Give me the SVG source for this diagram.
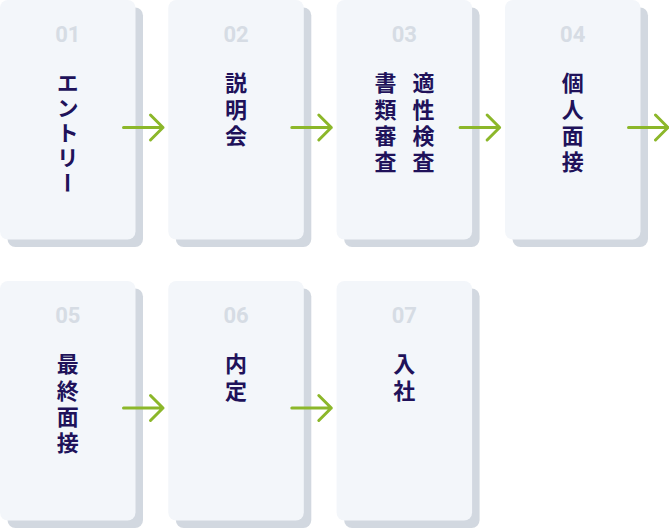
<svg xmlns="http://www.w3.org/2000/svg" width="669" height="528" viewBox="0 0 669 528">
<style>
.shadow{fill:#d2d8e0}
.card{fill:#f3f6fa}
.num{font-family:Roboto,"Liberation Sans",sans-serif;font-weight:700;font-size:22px;fill:#d6dce4;text-anchor:middle}
.lbl{font-family:"Noto Sans CJK JP","Noto Sans",sans-serif;font-weight:700;font-size:22px;fill:#20125a;writing-mode:vertical-rl;letter-spacing:4.2px}
.kana{letter-spacing:3px}
.arrow{fill:none;stroke:#8cb72a;stroke-width:3;stroke-linecap:round;stroke-linejoin:round}
</style>
<defs>
<g id="cardbg">
<rect class="shadow" x="7.5" y="7.5" width="135.5" height="239.5" rx="8"/>
<rect class="card" x="0" y="0" width="135.5" height="239.5" rx="8"/>
</g>
</defs>
<g id="step01">
<use href="#cardbg" x="0" y="0"/>
<text class="num" x="67.8" y="42">01</text>
<text class="lbl kana" x="67.8" y="72">エントリー</text>
</g>
<g id="step02">
<use href="#cardbg" x="168.3" y="0"/>
<text class="num" x="236" y="42">02</text>
<text class="lbl" x="236" y="72">説明会</text>
</g>
<g id="step03">
<use href="#cardbg" x="336.6" y="0"/>
<text class="num" x="404.3" y="42">03</text>
<text class="lbl" x="423.5" y="72">適性検査</text>
<text class="lbl" x="385.5" y="72">書類審査</text>
</g>
<g id="step04">
<use href="#cardbg" x="505" y="0"/>
<text class="num" x="572.7" y="42">04</text>
<text class="lbl" x="572.7" y="72">個人面接</text>
</g>
<g id="step05">
<use href="#cardbg" x="0" y="281"/>
<text class="num" x="67.8" y="323">05</text>
<text class="lbl" x="67.8" y="353">最終面接</text>
</g>
<g id="step06">
<use href="#cardbg" x="168.3" y="281"/>
<text class="num" x="236" y="323">06</text>
<text class="lbl" x="236" y="353">内定</text>
</g>
<g id="step07">
<use href="#cardbg" x="336.6" y="281"/>
<text class="num" x="404.3" y="323">07</text>
<text class="lbl" x="404.3" y="353">入社</text>
</g>
<g id="connectors">
<path class="arrow" d="M123.5 127.5H163M150.5 115L163 127.5L150.5 140"/>
<path class="arrow" d="M291.8 127.5H331.3M318.8 115L331.3 127.5L318.8 140"/>
<path class="arrow" d="M460.1 127.5H499.6M487.1 115L499.6 127.5L487.1 140"/>
<path class="arrow" d="M628.5 127.5H668M655.5 115L668 127.5L655.5 140"/>
<path class="arrow" d="M123.5 408H163M150.5 395.5L163 408L150.5 420.5"/>
<path class="arrow" d="M291.8 408H331.3M318.8 395.5L331.3 408L318.8 420.5"/>
</g>
</svg>
